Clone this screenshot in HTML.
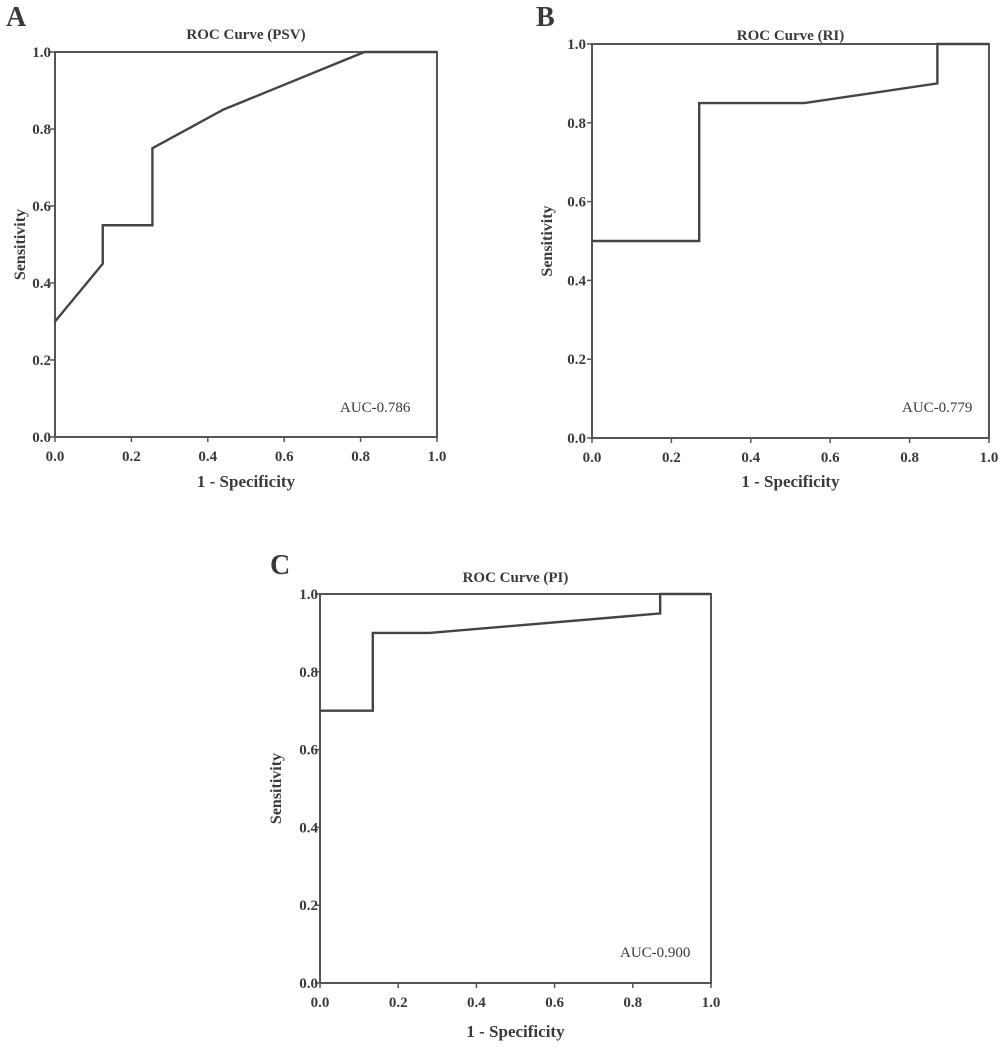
<!DOCTYPE html>
<html><head><meta charset="utf-8"><style>
body{margin:0;background:#fff;width:1000px;height:1042px;overflow:hidden}
svg text{font-family:"Liberation Serif",serif;font-weight:bold;fill:#3a3a3a}
</style></head><body>
<svg id="fig" width="1000" height="1042" viewBox="0 0 1000 1042" xmlns="http://www.w3.org/2000/svg"></svg>
<script>
// Panel A (PSV)
const fprA = [0, 0.125, 0.125, 0.255, 0.255, 0.44, 0.81, 1.0];
const tprA = [0.3, 0.45, 0.55, 0.55, 0.75, 0.85, 1.0, 1.0];
// Panel B (RI)
const fprB = [0, 0.27, 0.27, 0.535, 0.87, 0.87, 1.0];
const tprB = [0.5, 0.5, 0.85, 0.85, 0.9, 1.0, 1.0];
// Panel C (PI)
const fprC = [0, 0.135, 0.135, 0.28, 0.87, 0.87, 1.0];
const tprC = [0.7, 0.7, 0.9, 0.9, 0.95, 1.0, 1.0];
const tickVals = [0, 0.2, 0.4, 0.6, 0.8, 1.0];
const tickLabels = ["0.0", "0.2", "0.4", "0.6", "0.8", "1.0"];
const titles = ["ROC Curve (PSV)", "ROC Curve (RI)", "ROC Curve (PI)"];
const aucLabels = ["AUC-0.786", "AUC-0.779", "AUC-0.900"];
const panelLetters = ["A", "B", "C"];

const NS = "http://www.w3.org/2000/svg";
const svg = document.getElementById("fig");
function mk(tag, attrs, parent){
  const e = document.createElementNS(NS, tag);
  for (const k in attrs) e.setAttribute(k, attrs[k]);
  (parent || svg).appendChild(e);
  return e;
}
const panels = [
  {x0:55, x1:437, y0:52, y1:437, fpr:fprA, tpr:tprA, letterX:6, letterY:26, titleY:39, xtY:461, xtitleY:487, ylabX:20, ytickX:51, aucX:340, aucY:412, key:"a"},
  {x0:592, x1:989, y0:44, y1:438, fpr:fprB, tpr:tprB, letterX:536, letterY:26, titleY:40, xtY:462, xtitleY:487, ylabX:547, ytickX:586, aucX:902, aucY:412, key:"b"},
  {x0:320, x1:711, y0:594, y1:983, fpr:fprC, tpr:tprC, letterX:270, letterY:574, titleY:582, xtY:1007, xtitleY:1037, ylabX:276, ytickX:318, aucX:620, aucY:957, key:"c"}
];
panels.forEach((p, i) => {
  const g = mk("g", {});
  
  
  const sx = v => p.x0 + v * (p.x1 - p.x0);
  const sy = v => p.y1 - v * (p.y1 - p.y0);
  const L = mk("text", {x:p.letterX, y:p.letterY, "font-size":28, fill:"#222"}, g);
  L.textContent = panelLetters[i];
  
  
  const t = mk("text", {x:(p.x0+p.x1)/2, y:p.titleY, "font-size":15, "text-anchor":"middle"}, g);
  t.textContent = titles[i];
  
  
  const frame = mk("rect", {x:p.x0, y:p.y0, width:p.x1-p.x0, height:p.y1-p.y0, fill:"none", stroke:"#555", "stroke-width":2}, g);
  
  
  tickVals.forEach((v, j) => {
    const xt = mk("line", {x1:sx(v), x2:sx(v), y1:p.y1, y2:p.y1+5, stroke:"#555", "stroke-width":1.5}, g);
    
    
    const yt = mk("line", {x1:p.x0-5, x2:p.x0, y1:sy(v), y2:sy(v), stroke:"#555", "stroke-width":1.5}, g);
    
    
    const xl = mk("text", {x:sx(v), y:p.xtY, "font-size":15, "text-anchor":"middle"}, g);
    xl.textContent = tickLabels[j];
    
    
    const yl = mk("text", {x:p.ytickX, y:sy(v)+5, "font-size":15, "text-anchor":"end"}, g);
    yl.textContent = tickLabels[j];
    
    
  });
  const xtitle = mk("text", {x:(p.x0+p.x1)/2, y:p.xtitleY, "font-size":17, "text-anchor":"middle"}, g);
  xtitle.textContent = "1 - Specificity";
  
  
  const cy = (p.y0+p.y1)/2;
  const ytitle = mk("text", {x:p.ylabX, y:cy, "font-size":16, "text-anchor":"middle", transform:"rotate(-90 "+p.ylabX+" "+cy+")"}, g);
  ytitle.setAttribute("y", cy + 5);
  ytitle.textContent = "Sensitivity";
  
  
  const pts = p.fpr.map((f, k) => sx(f) + "," + sy(p.tpr[k])).join(" ");
  const curve = mk("polyline", {points:pts, fill:"none", stroke:"#444", "stroke-width":2.4, "stroke-linejoin":"miter"}, g);
  
  
  const auc = mk("text", {x:p.aucX, y:p.aucY, "font-size":15, style:"font-weight:normal"}, g);
  auc.textContent = aucLabels[i];
  
  
});
</script>
</body></html>
